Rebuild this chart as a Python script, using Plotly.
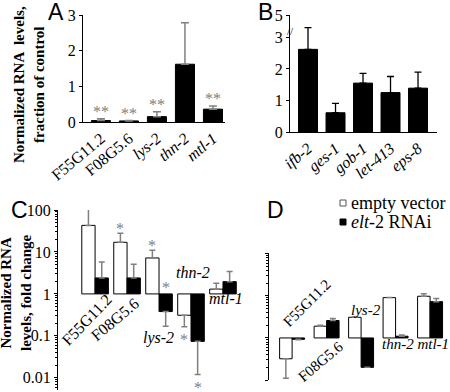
import numpy as np
import plotly.graph_objects as go

W, H = 450, 392
SERIF = "Liberation Serif"
SANS = "Liberation Sans"
GRAY = "#808080"

# ---------------- Panel A data ----------------
a_genes = ["F55G11.2", "F08G5.6", "lys-2", "thn-2", "mtl-1"]
a_ticktext = ["F55G11.2", "F08G5.6", "<i>lys-2</i>", "<i>thn-2</i>", "<i>mtl-1</i>"]
a_values = [0.04, 0.03, 0.15, 1.62, 0.36]
a_errors = [0.05, 0.015, 0.14, 1.16, 0.09]
a_sig = ["**", "**", "**", "", "**"]
a_yticks = [0, 1, 2, 3]

# ---------------- Panel B data ----------------
b_genes = ["ifb-2", "ges-1", "gob-1", "let-413", "eps-8"]
b_values = [2.62, 0.61, 1.55, 1.25, 1.39]
b_errors = [0.69, 0.30, 0.31, 0.51, 0.51]
b_yticks = [0, 1, 2, 3, 3.71]          # broken axis: top tick drawn at 3.71
b_yticktext = ["0", "1", "2", "3", "5"]
b_break_at = 3.19

# ---------------- Panel C data (fold change, log scale) ----------------
c_genes = ["F55G11.2", "F08G5.6", "lys-2", "thn-2", "mtl-1"]
c_empty = [43, 17, 7.2, 0.31, 1.3]
c_empty_err = [64, 11, 3.8, 0.145, 0.5]
c_elt2 = [2.4, 2.4, 0.38, 0.074, 1.96]
c_elt2_err = [3.4, 2.7, 0.21, 0.062, 1.44]
c_yticks = [0.01, 0.1, 1, 10, 100]
c_yticktext = ["0.01", "0.1", "1", "10", "100"]
# significance stars: (gene index, series, where)
c_stars = [(0, "empty", "end"), (1, "empty", "end"), (2, "empty", "end"),
           (3, "empty", "end"), (2, "elt2", "base"), (3, "elt2", "end")]

# ---------------- Panel D data (fold change, log scale) ----------------
d_genes = ["F55G11.2", "F08G5.6", "lys-2", "thn-2", "mtl-1"]
d_empty = [0.32, 1.9, 3.1, 9.1, 9.8]
d_empty_err = [0.21, 0.1, 0.1, 0.0, 1.5]
d_elt2 = [0.93, 2.6, 0.2, 1.1, 7.3]
d_elt2_err = [0.03, 0.3, 0.0, 0.08, 1.4]
d_yticks = [0.1, 1, 10, 100]

legend_names = ["empty vector", "<i>elt</i>-2 RNAi"]

minor_log = [m * 10.0 ** k for k in range(-3, 3) for m in range(2, 10)]


def px(x):
    return x / W


def py(y):
    return 1 - y / H


def dir_err(vals, errs):
    plus = [e if v >= 1 else 0 for v, e in zip(vals, errs)]
    minus = [e if v < 1 else 0 for v, e in zip(vals, errs)]
    return plus, minus


fig = go.Figure()

# ---------- A ----------
fig.add_trace(go.Bar(
    x=a_genes, y=a_values, width=0.68, xaxis="x", yaxis="y", showlegend=False,
    marker=dict(color="black", line=dict(color="black", width=1)),
    error_y=dict(type="data", array=a_errors, arrayminus=[0] * len(a_errors),
                 symmetric=False, color=GRAY, thickness=1.5, width=4)))

# ---------- B ----------
fig.add_trace(go.Bar(
    x=b_genes, y=b_values, width=0.69, xaxis="x2", yaxis="y2", showlegend=False,
    marker=dict(color="black", line=dict(color="black", width=1)),
    error_y=dict(type="data", array=b_errors, arrayminus=[0] * len(b_errors),
                 symmetric=False, color="black", thickness=1.3, width=3.5)))

# ---------- C ----------
cw = 0.416
for vals, errs, fill, off, name in [
        (c_empty, c_empty_err, "white", -cw, legend_names[0]),
        (c_elt2, c_elt2_err, "black", 0.0, legend_names[1])]:
    plus, minus = dir_err(vals, errs)
    fig.add_trace(go.Bar(
        x=c_genes, y=[v - 1 for v in vals], base=1, width=cw, offset=off,
        xaxis="x3", yaxis="y3", showlegend=False, name=name,
        marker=dict(color=fill, line=dict(color="black", width=1)),
        error_y=dict(type="data", array=plus, arrayminus=minus, symmetric=False,
                     color=GRAY, thickness=1.5, width=3)))

# ---------- D ----------
dw = 0.362
for vals, errs, fill, off, name in [
        (d_empty, d_empty_err, "white", -dw, legend_names[0]),
        (d_elt2, d_elt2_err, "black", 0.0, legend_names[1])]:
    plus, minus = dir_err(vals, errs)
    fig.add_trace(go.Bar(
        x=d_genes, y=[v - 1 for v in vals], base=1, width=dw, offset=off,
        xaxis="x4", yaxis="y4", showlegend=False, name=name,
        marker=dict(color=fill, line=dict(color="black", width=1)),
        error_y=dict(type="data", array=plus, arrayminus=minus, symmetric=False,
                     color=GRAY, thickness=1.5, width=3)))

tickfont = dict(family=SERIF, size=16, color="black")
common_y = dict(showgrid=False, zeroline=False, showline=True, linecolor="black",
                linewidth=1, ticks="outside", ticklen=3, tickcolor="black",
                tickfont=tickfont, fixedrange=True)
common_x = dict(showgrid=False, zeroline=False, type="category", fixedrange=True)

fig.update_layout(
    width=W, height=H, template="none",
    font=dict(family=SERIF, size=16, color="black"),
    margin=dict(l=0, r=0, t=0, b=0),
    paper_bgcolor="white", plot_bgcolor="rgba(0,0,0,0)",
    barmode="overlay", showlegend=False,
    xaxis=dict(**common_x, domain=[px(83), px(225)], anchor="y", range=[-0.64, 4.43],
               showline=True, linecolor="black", linewidth=1, ticks="",
               tickvals=a_genes, ticktext=a_ticktext, tickangle=-40, tickfont=tickfont),
    yaxis=dict(**common_y, domain=[py(122), py(15)], anchor="x", range=[0, 3],
               tickvals=a_yticks),
    xaxis2=dict(**common_x, domain=[px(290), px(437)], anchor="y2", range=[-0.655, 4.69],
                showline=True, linecolor="black", linewidth=1, ticks="",
                tickvals=b_genes, ticktext=["<i>%s</i>" % g for g in b_genes],
                tickangle=-40, tickfont=tickfont),
    yaxis2=dict(**common_y, domain=[py(132), py(15)], anchor="x2", range=[0, 3.71],
                tickvals=b_yticks, ticktext=b_yticktext),
    xaxis3=dict(**common_x, domain=[px(58), px(238)], anchor="y3", range=[-1.16, 4.47],
                visible=False),
    yaxis3=dict(**common_y, domain=[py(390), py(210)], anchor="x3", type="log",
                range=[-2.29, 2.0], tickvals=c_yticks, ticktext=c_yticktext,
                minor=dict(tickvals=minor_log, ticks="outside", ticklen=2,
                           tickcolor="black", showgrid=False)),
    xaxis4=dict(**common_x, domain=[px(269), px(448)], anchor="y4", range=[-0.67, 4.52],
                visible=False),
    yaxis4=dict(**common_y, domain=[py(380), py(253)], anchor="x4", type="log",
                range=[-1.0, 2.02], tickvals=d_yticks, showticklabels=False,
                minor=dict(tickvals=minor_log, ticks="outside", ticklen=2,
                           tickcolor="black", showgrid=False)),
)

shapes = [
    dict(type="line", xref="x3 domain", x0=0, x1=1, yref="y3", y0=0, y1=0,
         line=dict(color="#555555", width=1.5)),
    dict(type="line", xref="x4 domain", x0=0, x1=1, yref="y4", y0=0, y1=0,
         line=dict(color="#555555", width=1.5)),
    # legend swatches
    dict(type="rect", xref="paper", yref="paper", x0=px(340), x1=px(346),
         y0=py(206), y1=py(200), fillcolor="white", line=dict(color="#555555", width=1)),
    dict(type="rect", xref="paper", yref="paper", x0=px(340), x1=px(346),
         y0=py(225), y1=py(219), fillcolor="black", line=dict(color="black", width=1)),
]

ann = []


def A(**kw):
    base = dict(showarrow=False)
    base.update(kw)
    ann.append(base)


# panel letters
for letter, (lx, ly) in zip("ABCD", [(55.5, 12), (265, 12), (19.5, 210), (275.5, 210)]):
    A(text=letter, xref="paper", yref="paper", x=px(lx), y=py(ly), xanchor="center",
      yanchor="middle", font=dict(family=SANS, size=23, color="black"))

# axis titles
A(text="<b>Normalized RNA  levels,<br>fraction of control</b>", xref="paper", yref="paper",
  x=px(29), y=py(85), textangle=-90, xanchor="center", yanchor="middle",
  font=dict(family=SERIF, size=15, color="black"))
A(text="<b>Normalized RNA<br>levels, fold change</b>", xref="paper", yref="paper",
  x=px(16), y=py(293), textangle=-90, xanchor="center", yanchor="middle",
  font=dict(family=SERIF, size=15, color="black"))

# stars in A
for i, (v, e, s) in enumerate(zip(a_values, a_errors, a_sig)):
    if s:
        A(text=s, xref="x", yref="y", x=i, y=v + e, yanchor="middle", yshift=7,
          font=dict(family=SERIF, size=16, color=GRAY))

# break mark in B
A(text="//", xref="x2 domain", yref="y2", x=0, y=b_break_at, xanchor="center",
  yanchor="middle", font=dict(family=SERIF, size=11, color="black"))

# stars in C
series = {"empty": (c_empty, c_empty_err, -cw / 2), "elt2": (c_elt2, c_elt2_err, cw / 2)}
for i, s, where in c_stars:
    vals, errs, off = series[s]
    v, e = vals[i], errs[i]
    if where == "base":
        yv, shift = 1.0, 6
    elif v >= 1:
        yv, shift = v + e, 5
    else:
        yv, shift = v - e, -13
    A(text="*", xref="x3", yref="y3", x=i + off, y=np.log10(yv), yanchor="middle",
      yshift=shift, font=dict(family=SERIF, size=16, color=GRAY))

# gene labels inside C
for txt, gx, gy, ang in [("F55G11.2", -0.25, 0.24, -46), ("F08G5.6", 0.62, 0.24, -40),
                         ("<i>lys-2</i>", 1.97, 0.089, 0), ("<i>thn-2</i>", 3.06, 3.3, 0),
                         ("<i>mtl-1</i>", 4.09, 0.79, 0)]:
    A(text=txt, xref="x3", yref="y3", x=gx, y=np.log10(gy), textangle=ang,
      xanchor="center", yanchor="middle", font=dict(family=SERIF, size=16, color="black"))

# gene labels inside D
for txt, gx, gy, ang in [("F55G11.2", 0.43, 6.8, -45), ("F08G5.6", 0.81, 0.27, -40),
                         ("<i>lys-2</i>", 2.14, 4.7, 0),
                         ("<i>thn-2 mtl-1</i>", 3.57, 0.72, 0)]:
    A(text=txt, xref="x4", yref="y4", x=gx, y=np.log10(gy), textangle=ang,
      xanchor="center", yanchor="middle", font=dict(family=SERIF, size=15, color="black"))

# legend text
for name, ly in zip(legend_names, [203, 222]):
    A(text=name, xref="paper", yref="paper", x=px(349), y=py(ly), xanchor="left",
      yanchor="middle", font=dict(family=SERIF, size=18, color="black"))

fig.update_layout(annotations=ann, shapes=shapes)
fig.write_html("out.html", config={"displayModeBar": False, "staticPlot": True},
               post_script="document.body.style.margin='0px';document.body.style.padding='0px';")
